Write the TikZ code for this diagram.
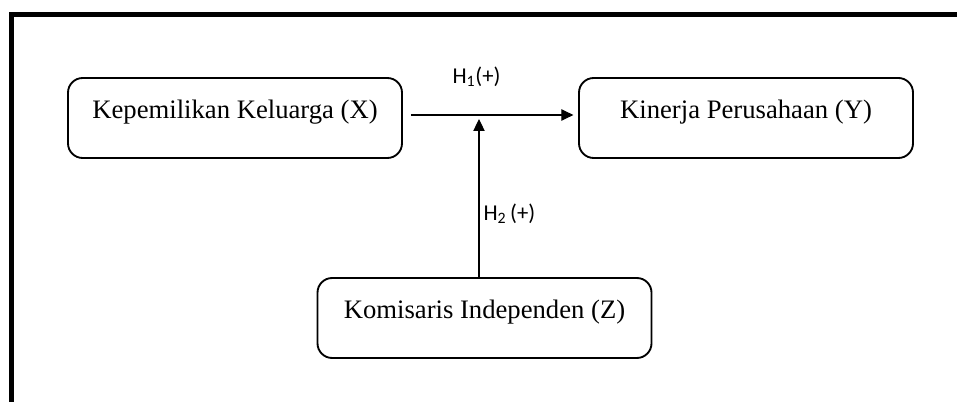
\documentclass[tikz,border=0pt]{standalone}
\usepackage{fontspec}
\setmainfont{Liberation Serif}
\newfontfamily\hypfont{Carlito}
\usetikzlibrary{arrows.meta,positioning}

\begin{document}
\begin{tikzpicture}[
    x=0.75pt, y=-0.75pt,
    varbox/.style={rectangle, draw, line width=1.4pt, rounded corners=11pt, minimum width=250.5pt, minimum height=60pt, text height=14pt, text depth=13pt, font=\fontsize{20}{24}\selectfont},
    hyp/.style={font=\hypfont\fontsize{17}{20}\selectfont, inner sep=3pt},
    arrow/.style={-{Triangle[length=9pt,width=8.5pt]}, line width=0.8pt}
]
    \useasboundingbox (0,0) rectangle (957,402);
    % frame of the figure
    \draw[line width=4.2pt] (11.5,402) -- (11.5,14.5) -- (957,14.5);

    \node[varbox] (keluarga) at (235,118) {Kepemilikan Keluarga (X)};
    \node[varbox] (kinerja) at (746,118) {Kinerja Perusahaan (Y)};
    \node[varbox] (komisaris) at (484.5,318) {Komisaris Independen (Z)};
    \coordinate (moderasi) at (479,119);

    \draw[arrow, shorten <=6pt, shorten >=3.5pt] ([yshift=2.25pt]keluarga.east) -- node[hyp, above=18pt, pos=0.42] {H\textsubscript{1}(+)} ([yshift=2.25pt]kinerja.west);
    \draw[arrow] (komisaris.north -| moderasi) -- node[hyp, right, pos=0.4] {H\textsubscript{2}\,(+)} (moderasi);
\end{tikzpicture}
\end{document}
